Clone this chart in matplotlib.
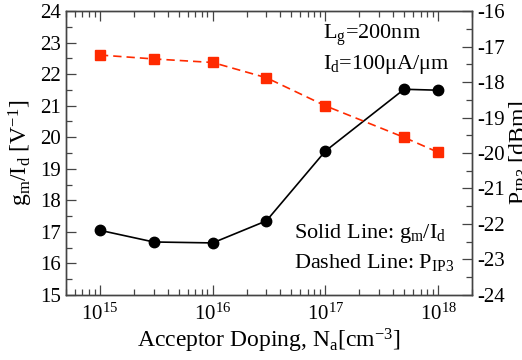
import matplotlib
matplotlib.use('Agg')
import matplotlib.pyplot as plt
import numpy as np
from matplotlib.ticker import MultipleLocator, LogLocator, NullFormatter

plt.rcParams['font.family'] = ['Liberation Serif', 'DejaVu Serif']
plt.rcParams['mathtext.fontset'] = 'custom'
plt.rcParams['mathtext.rm'] = 'Liberation Serif'
plt.rcParams['mathtext.it'] = 'Liberation Serif:italic'
plt.rcParams['axes.unicode_minus'] = False

# Acceptor doping levels (cm^-3)
doping = [1e15, 3e15, 1e16, 3e16, 1e17, 5e17, 1e18]
# gm/Id (V^-1), left axis
gm_id = [17.05, 16.68, 16.65, 17.35, 19.56, 21.52, 21.49]
# PIP3 (dBm), right axis
pip3 = [-17.24, -17.35, -17.45, -17.88, -18.67, -19.56, -19.98]

fig = plt.figure(figsize=(5.22, 3.6), dpi=100)
ax = fig.add_axes([0.1264, 0.1806, 0.7778, 0.7888])
ax2 = ax.twinx()

ax.plot(doping, gm_id, '-', color='black', lw=1.2, marker='o', ms=7.5, zorder=3)
ax2.plot(doping, pip3, '--', color='#ff2a00', lw=1.2, marker='s', ms=6.5,
         dashes=(5, 3), zorder=3)

ax.set_xscale('log')
ax.set_xlim(5e14, 2e18)
ax.set_ylim(15, 24)
ax2.set_ylim(-24, -16)

ax.yaxis.set_major_locator(MultipleLocator(1))
ax.yaxis.set_minor_locator(MultipleLocator(0.5))
ax2.yaxis.set_major_locator(MultipleLocator(1))
ax2.yaxis.set_minor_locator(MultipleLocator(0.5))
ax.xaxis.set_major_locator(LogLocator(base=10, numticks=10))
ax.xaxis.set_minor_locator(LogLocator(base=10, subs=np.arange(2, 10), numticks=20))
ax.xaxis.set_minor_formatter(NullFormatter())

ax.tick_params(axis='x', which='both', direction='in', top=True, labelsize=15, pad=6)
ax.tick_params(axis='y', which='both', direction='in', right=False, labelsize=15)
ax2.tick_params(axis='y', which='both', direction='in', labelsize=15)
for a in (ax, ax2):
    a.tick_params(which='major', length=7, width=0.9, color='#444444')
    a.tick_params(which='minor', length=4, width=0.9, color='#444444')
    for s in a.spines.values():
        s.set_color('#444444')
        s.set_linewidth(1.0)

ax.set_xlabel(r'Acceptor Doping, N$_\mathregular{a}$[cm$^\mathregular{-3}$]', fontsize=17, labelpad=2)
ax.set_ylabel(r'g$_\mathregular{m}$/I$_\mathregular{d}$ [V$^\mathregular{-1}$]', fontsize=17, labelpad=4)
ax2.set_ylabel(r'P$_\mathregular{IP3}$ [dBm]', fontsize=17, labelpad=2)

ax.text(0.634, 0.9, r'L$_\mathregular{g}$=200nm', transform=ax.transAxes, fontsize=16)
ax.text(0.634, 0.795, r'I$_\mathregular{d}$=100$\mathregular{\mu}$A/$\mathregular{\mu}$m', transform=ax.transAxes, fontsize=16)
ax.text(0.562, 0.2, r'Solid Line: g$_\mathregular{m}$/I$_\mathregular{d}$', transform=ax.transAxes, fontsize=16)
ax.text(0.562, 0.095, r'Dashed Line: P$_\mathregular{IP3}$', transform=ax.transAxes, fontsize=16)

fig.savefig('out.png', dpi=100)
